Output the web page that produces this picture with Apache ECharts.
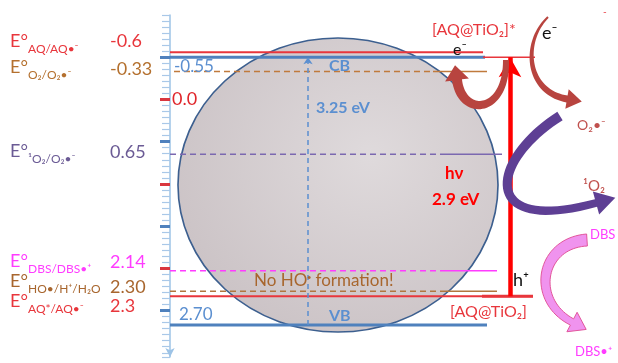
<!DOCTYPE html>
<html lang="en">
<head>
<meta charset="UTF-8">
<title>AQ@TiO2 energy scheme</title>
<script src="https://cdn.jsdelivr.net/npm/echarts@6/dist/echarts.min.js"></script>
<style>
  html, body { margin: 0; padding: 0; background: #fff; }
  #main { width: 618px; height: 363px; }
</style>
</head>
<body>
<div id="main"></div>
<script>
// redox couples listed on the left (E° vs NHE)
const couples = ['AQ/AQ•⁻', 'O₂/O₂•⁻', '¹O₂/O₂•⁻', 'DBS/DBS•⁺', 'HO•/H⁺/H₂O', 'AQ*/AQ•⁻'];
const potentials = ['-0.6', '-0.33', '0.65', '2.14', '2.30', '2.3'];
// where every level sits on the scheme (V)
const levelNames = ['AQ/AQ•⁻', 'CB', 'O₂/O₂•⁻', '¹O₂/O₂•⁻', 'DBS/DBS•⁺', 'HO•/H⁺/H₂O', 'AQ*/AQ•⁻', 'VB'];
const levelAt = [-0.56, -0.5, -0.33, 0.65, 2.03, 2.27, 2.33, 2.67];
// TiO2 band edges and gaps
const bandEdges = ['-0.55', '2.70'];
const bandGap = '3.25 eV';
const photon = '2.9 eV';
const redTicks = [0, 1, 2];
const blueTicks = [-0.5, 0.5, 1.5, 2.5];

const RED = '#e8363c', BLUE = '#4f81bd', ORANGE = '#c07a3c', PURPLE = '#7b68b0',
      MAGENTA = '#ff3cff', BROWN = '#a8662e', DARKRED = '#b8443f';
const FONT = 'Lato, "DejaVu Sans", sans-serif';

// how each level is drawn (x in axis units from the left axis)
const levelStyle = [
  { color: RED, width: 2, end: 313 },
  { color: BLUE, width: 3, end: 315 },
  { color: ORANGE, width: 1.5, start: 4, dashTo: 263, end: 317 },
  { color: PURPLE, width: 1.5, dashTo: 273, end: 332 },
  { color: MAGENTA, width: 1.5, dashTo: 275, end: 327 },
  { color: '#b0763e', width: 1.5, dashTo: 275, end: 327 },
  { color: RED, width: 2, end: 363 },
  { color: BLUE, width: 3, end: 317 }
];

function seg(x0, x1, v, color, width, type, name) {
  return {
    type: 'line', name: name, symbol: 'none', silent: true, z: 3,
    data: [[x0, v], [x1, v]],
    lineStyle: { color: color, width: width, type: type }
  };
}

const series = [];
levelAt.forEach((v, i) => {
  const s = levelStyle[i];
  if (s.dashTo) {
    series.push(seg(s.start || 0, s.dashTo, v, s.color, s.width, [6, 4], levelNames[i]));
    series.push(seg(s.dashTo, s.end, v, s.color, s.width, 'solid', levelNames[i]));
  } else {
    series.push(seg(s.start || 0, s.end, v, s.color, s.width, 'solid', levelNames[i]));
  }
});
// excited AQ level next to CB and the ground level foot
series.push(seg(313, 365, levelAt[1], RED, 1.5, 'solid', 'AQ*'));
series.push(seg(312, 363, levelAt[6], RED, 3, 'solid', 'AQ'));

// excitation arrows
series.push({
  type: 'line', data: [], silent: true, z: 4,
  markLine: {
    silent: true, animation: false,
    label: { show: false },
    data: [
      [{ coord: [340, levelAt[6]], symbol: 'none', lineStyle: { color: '#ff0000', width: 4.5, type: 'solid' } },
       { coord: [340, levelAt[1]], symbol: 'arrow', symbolSize: [17, 20] }],
      [{ coord: [138, levelAt[7]], symbol: 'none', lineStyle: { color: '#5b8fd0', width: 1.5, type: [5, 4] } },
       { coord: [138, levelAt[1]], symbol: 'arrow', symbolSize: [7, 7] }]
    ]
  }
});

// curved arrows of the scheme
function bez(p, t) {
  const u = 1 - t;
  return [0, 1].map(k => u * u * u * p[0][k] + 3 * u * u * t * p[1][k] + 3 * u * t * t * p[2][k] + t * t * t * p[3][k]);
}
function dir(p, t) {
  const u = 1 - t;
  const d = [0, 1].map(k => 3 * u * u * (p[1][k] - p[0][k]) + 6 * u * t * (p[2][k] - p[1][k]) + 3 * t * t * (p[3][k] - p[2][k]));
  const l = Math.hypot(d[0], d[1]) || 1;
  return [d[0] / l, d[1] / l];
}
function curvedArrow(p, w0, w1, headLen, headW) {
  const left = [], right = [], n = 40;
  for (let i = 0; i <= n; i++) {
    const t = i / n, c = bez(p, t), d = dir(p, t), w = (w0 + (w1 - w0) * t) / 2;
    left.push([c[0] - d[1] * w, c[1] + d[0] * w]);
    right.push([c[0] + d[1] * w, c[1] - d[0] * w]);
  }
  const e = p[3], d = dir(p, 1);
  const head = [
    [e[0] - d[1] * headW / 2, e[1] + d[0] * headW / 2],
    [e[0] + d[0] * headLen, e[1] + d[1] * headLen],
    [e[0] + d[1] * headW / 2, e[1] - d[0] * headW / 2]
  ];
  return left.concat(head, right.reverse());
}

function txt(x, y, text, size, color, bold, rich) {
  return {
    type: 'text', x: x, y: y, z: 100, silent: true,
    style: {
      text: text, fill: color, rich: rich,
      font: (bold ? 'bold ' : '') + size + 'px ' + FONT,
      textVerticalAlign: 'middle', verticalAlign: 'middle'
    }
  };
}

const coupleColors = [RED, '#b4702e', '#6b5b95', MAGENTA, BROWN, RED];
const coupleY = [41, 67, 151, 261, 281, 301];
const valueY = [41, 69, 152, 262, 287, 306];

const graphics = [
  {
    type: 'circle', x: 338, y: 185, scaleX: 160 / 147, z: 0, silent: true,
    shape: { cx: 0, cy: 0, r: 147 },
    style: {
      fill: new echarts.graphic.RadialGradient(0.6, 0.4, 0.8, [
        { offset: 0, color: '#dfdadc' },
        { offset: 1, color: '#c7bec1' }
      ]),
      stroke: '#3c5f8f', lineWidth: 1.5, strokeNoScale: true
    }
  }
];
couples.forEach((c, i) => {
  graphics.push(txt(10, coupleY[i], 'E°', 18, coupleColors[i]));
  graphics.push(txt(28, coupleY[i] + 8, c, 12, coupleColors[i]));
  graphics.push(txt(110, valueY[i], potentials[i], 18, coupleColors[i]));
});
graphics.push(
  txt(174, 67, bandEdges[0], 17, '#5b8fd0'),
  txt(329, 66, 'CB', 16, '#5b8fd0', true),
  txt(172, 99, '0.0', 18, '#e0262b'),
  txt(316, 108, bandGap, 16, '#5b8fd0', true),
  txt(254, 281, 'No HO{p|•} formation!', 17, BROWN, false,
      { p: { fontSize: 11, fill: BROWN, verticalAlign: 'top', lineHeight: 10 } }),
  txt(179, 315, bandEdges[1], 17, '#5b8fd0'),
  txt(329, 316, 'VB', 16, '#5b8fd0', true),
  txt(432, 30, '[AQ@TiO₂]*', 16, RED),
  txt(453, 50, 'e⁻', 16, '#111'),
  txt(542, 33, 'e⁻', 18, '#111'),
  txt(577, 125, 'O₂•⁻', 14, '#c0504d'),
  txt(445, 174, 'hν', 17, '#ff0000', true),
  txt(432, 200, photon, 17, '#ff0000', true),
  txt(583, 186, '¹O₂', 15, '#c0504d'),
  txt(590, 235, 'DBS', 13, MAGENTA),
  txt(513, 280, 'h⁺', 18, '#111'),
  txt(450, 312, '[AQ@TiO₂]', 16, RED),
  txt(575, 352, 'DBS•⁺', 13, MAGENTA),
  txt(603, 12, '-', 10, RED)
);
graphics.push(
  { type: 'polygon', z: 50, silent: true, shape: { points: curvedArrow([[506, 60], [507, 114], [462, 118], [457, 80]], 6, 10, 15, 24) }, style: { fill: DARKRED } },
  { type: 'polygon', z: 50, silent: true, shape: { points: curvedArrow([[548, 17], [522, 42], [526, 92], [567, 99]], 2, 7, 15, 20) }, style: { fill: DARKRED } },
  { type: 'polygon', z: 50, silent: true, shape: { points: curvedArrow([[560, 116], [490, 160], [478, 235], [596, 203]], 10, 8, 20, 24) }, style: { fill: '#5e3f94' } },
  { type: 'polygon', z: 50, silent: true, shape: { points: curvedArrow([[587, 240], [540, 243], [530, 300], [572, 322]], 12, 7, 16, 22) }, style: { fill: '#f093ee', stroke: '#e2569c', lineWidth: 1 } }
);

const axisBase = { type: 'value', inverse: true, min: -1, max: 3.05, position: 'left', splitLine: { show: false }, axisLabel: { show: false } };

const chart = echarts.init(document.getElementById('main'));
chart.setOption({
  animation: false,
  backgroundColor: '#fff',
  grid: { left: 170, right: 0, top: 15, height: 342 },
  xAxis: { type: 'value', min: 0, max: 448, show: false },
  yAxis: [
    Object.assign({}, axisBase, {
      interval: 1 / 14,
      axisLine: { show: true, lineStyle: { color: '#9dc3e6', width: 1.5 }, symbol: ['arrow', 'none'], symbolSize: [7, 9] },
      axisTick: { show: true, length: 8, lineStyle: { color: '#a9c8e8', width: 1.2 } }
    }),
    Object.assign({}, axisBase, {
      axisLine: { show: false },
      axisTick: { show: true, customValues: redTicks, length: 10, lineStyle: { color: '#d9363e', width: 3 } }
    }),
    Object.assign({}, axisBase, {
      axisLine: { show: false },
      axisTick: { show: true, customValues: blueTicks, length: 10, lineStyle: { color: BLUE, width: 3 } }
    })
  ],
  series: series,
  graphic: { elements: graphics }
});
</script>
</body>
</html>
